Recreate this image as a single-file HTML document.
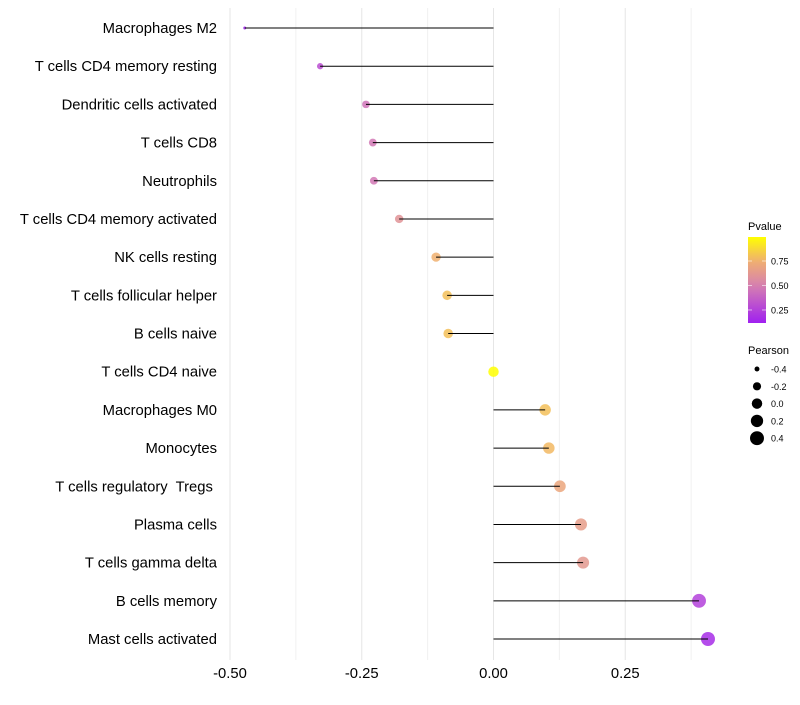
<!DOCTYPE html>
<html><head><meta charset="utf-8"><style>
body{margin:0;background:#fff;font-family:"Liberation Sans",sans-serif}
text{white-space:pre}
</style></head><body>
<svg id="chart" width="800" height="700" xmlns="http://www.w3.org/2000/svg" font-family="Liberation Sans, sans-serif"></svg>
<script>
const categories=["Macrophages M2","T cells CD4 memory resting","Dendritic cells activated","T cells CD8","Neutrophils","T cells CD4 memory activated","NK cells resting","T cells follicular helper","B cells naive","T cells CD4 naive","Macrophages M0","Monocytes","T cells regulatory  Tregs ","Plasma cells","T cells gamma delta","B cells memory","Mast cells activated"];
const pearson=[-0.472,-0.329,-0.242,-0.229,-0.227,-0.179,-0.109,-0.088,-0.086,0.0,0.098,0.105,0.126,0.166,0.170,0.390,0.407];
const pvalue=[0.12,0.3,0.45,0.47,0.47,0.6,0.75,0.8,0.8,1.0,0.8,0.78,0.7,0.65,0.63,0.25,0.17];
const xTicks=[-0.5,-0.25,0,0.25];
const xTickLabels=["-0.50","-0.25","0.00","0.25"];
const colorTicks=[0.25,0.5,0.75];
const colorTickLabels=["0.25","0.50","0.75"];
const sizeLegend=[-0.4,-0.2,0.0,0.2,0.4];
const sizeLegendLabels=["-0.4","-0.2","0.0","0.2","0.4"];

const NS="http://www.w3.org/2000/svg";
const svg=document.getElementById('chart');
function mk(t,a,parent){const e=document.createElementNS(NS,t);for(const k in a)e.setAttribute(k,a[k]);(parent||svg).appendChild(e);return e;}
const x=v=>493.5+v*527;
const y=i=>28+i*(611/(categories.length-1));
const pMin=0.117,pMax=0.995;
const cy=p=>323-(p-pMin)/(pMax-pMin)*86;
const r=v=>Math.sqrt(Math.max(0.5,27.36+53.2*v));
const stops=[[0,[160,32,240]],[0.437,[214,128,176]],[0.722,[240,176,112]],[1,[255,255,0]]];
function col(p){let t=(p-pMin)/(pMax-pMin);t=Math.max(0,Math.min(1,t));
 for(let i=0;i<stops.length-1;i++){const[a,ca]=stops[i],[b,cb]=stops[i+1];if(t<=b){const f=(t-a)/(b-a);return 'rgb('+ca.map((c,j)=>Math.round(c+(cb[j]-c)*f)).join(',')+')';}}return 'rgb(255,255,0)';}

for(let k=0;k<8;k++){const v=-0.5+k*0.125;const g=mk('line',{x1:x(v),x2:x(v),y1:8,y2:660,stroke:k%2?'#f0f0f0':'#e6e6e6','stroke-width':1});

}
xTicks.forEach((v,i)=>{const t=mk('text',{x:x(v),y:678,'text-anchor':'middle','font-size':14.8,fill:'#000'});t.textContent=xTickLabels[i];

});
categories.forEach((c,i)=>{
 const t=mk('text',{x:217,y:y(i)+5,'text-anchor':'end','font-size':14.8,fill:'#000'});t.textContent=c;
 
 
 const pt=mk('circle',{cx:x(pearson[i]),cy:y(i),r:r(pearson[i]),fill:col(pvalue[i]),'fill-opacity':0.85});
 
 
 const s=mk('line',{x1:x(0),x2:x(pearson[i]),y1:y(i),y2:y(i),stroke:'#000','stroke-width':1});
 
 
});
const lt=mk('text',{x:748,y:230,'font-size':11});lt.textContent='Pvalue';


const defs=mk('defs',{});const lg=mk('linearGradient',{id:'g',x1:0,y1:1,x2:0,y2:0},defs);
for(let k=0;k<=10;k++){const p=pMin+(pMax-pMin)*k/10;mk('stop',{offset:k/10,'stop-color':col(p)},lg);}
const bar=mk('rect',{x:748,y:237,width:18,height:86,fill:'url(#g)'});


colorTicks.forEach((p,i)=>{mk('line',{x1:748,x2:752,y1:cy(p),y2:cy(p),stroke:'#fff','stroke-opacity':0.6});mk('line',{x1:762,x2:766,y1:cy(p),y2:cy(p),stroke:'#fff','stroke-opacity':0.6});
 const t=mk('text',{x:771,y:cy(p)+3.5,'font-size':9});t.textContent=colorTickLabels[i];
 
 });
const st=mk('text',{x:748,y:354,'font-size':11});st.textContent='Pearson';


sizeLegend.forEach((v,i)=>{const yy=369+i*17.3;
 const c=mk('circle',{cx:757,cy:yy,r:r(v),fill:'#000'});
 
 
 const t=mk('text',{x:771,y:yy+3.5,'font-size':9});t.textContent=sizeLegendLabels[i];
 
 });
</script>
</body></html>
